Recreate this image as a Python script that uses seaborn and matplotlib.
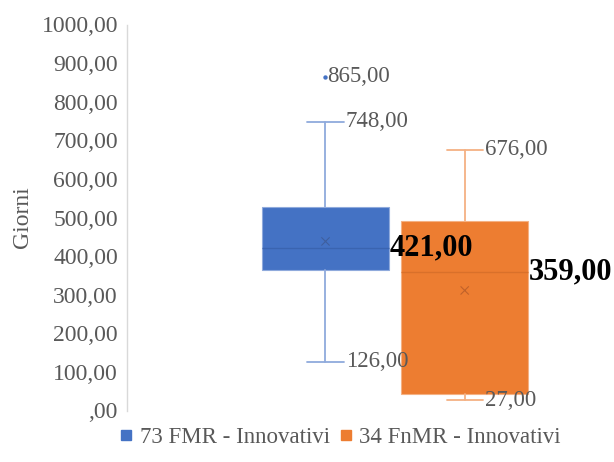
import matplotlib
matplotlib.use("Agg")
import matplotlib.pyplot as plt
from matplotlib.lines import Line2D
import seaborn as sns
import pandas as pd

# Summary statistics of the two groups (days)
series = ["73 FMR - Innovativi", "34 FnMR - Innovativi"]
q1 = [364, 43]
median = [421, 359]
q3 = [528, 490]
mean = [438, 311]
whisker_low = [126, 27]
whisker_high = [748, 676]
outliers = [[865], []]
y_ticks = [0, 100, 200, 300, 400, 500, 600, 700, 800, 900, 1000]

fill = ["#4472C4", "#ED7D31"]
whisker_col = ["#8FAADC", "#F4B183"]
median_col = ["#3A64B0", "#D9702A"]
mean_col = ["#3F5F9E", "#C0622A"]
label_col = "#595959"

sns.set_theme(style="white")
plt.rcParams["font.family"] = ["Liberation Serif", "DejaVu Serif"]

fig = plt.figure(figsize=(6.14, 4.62), dpi=100)
ax = fig.add_axes([127 / 614, 1 - 410.5 / 462, 473 / 614, 386 / 462])

positions = [1, 2]
box_w = 0.912
cap_w = 0.26

stats = []
for i, name in enumerate(series):
    stats.append(dict(label=name, q1=q1[i], med=median[i], q3=q3[i],
                      whislo=whisker_low[i], whishi=whisker_high[i],
                      mean=mean[i], fliers=[]))

parts = ax.bxp(stats, positions=positions, widths=box_w, patch_artist=True,
               showfliers=False, showmeans=False, capwidths=cap_w,
               manage_ticks=False)
for i in range(2):
    box = parts["boxes"][i]
    box.set_facecolor(fill[i])
    box.set_edgecolor(whisker_col[i])
    box.set_linewidth(0.8)
    parts["medians"][i].set_color(median_col[i])
    parts["medians"][i].set_linewidth(1.0)
    for k in (2 * i, 2 * i + 1):
        parts["whiskers"][k].set_color(whisker_col[i])
        parts["whiskers"][k].set_linewidth(1.3)
        parts["caps"][k].set_color(whisker_col[i])
        parts["caps"][k].set_linewidth(1.3)

# Mean markers and outliers
mean_df = pd.DataFrame({"x": positions, "y": mean, "s": series})
sns.scatterplot(data=mean_df, x="x", y="y", hue="s", palette=mean_col,
                marker="x", s=35, linewidth=0.8, legend=False, ax=ax, zorder=5)
out_rows = [(positions[i], v, series[i]) for i in range(2) for v in outliers[i]]
out_df = pd.DataFrame(out_rows, columns=["x", "y", "s"])
sns.scatterplot(data=out_df, x="x", y="y", color=fill[0], s=10,
                linewidth=0, legend=False, ax=ax, zorder=5)


def fmt(v):
    whole = int(round(v))
    return (",00" if whole == 0 else f"{whole},00")


# Value labels
for i, p in enumerate(positions):
    ax.annotate(fmt(whisker_high[i]), (p + cap_w / 2, whisker_high[i]),
                xytext=(1.5, 0), textcoords="offset points", ha="left",
                va="center", fontsize=16.5, color=label_col)
    ax.annotate(fmt(whisker_low[i]), (p + cap_w / 2, whisker_low[i]),
                xytext=(1.5, 0), textcoords="offset points", ha="left",
                va="center", fontsize=16.5, color=label_col)
    ax.annotate(fmt(median[i]), (p + box_w / 2, median[i]),
                xytext=(0.5, 0), textcoords="offset points", ha="left",
                va="center", fontsize=22, fontweight="bold", color="black",
                zorder=6)
    for v in outliers[i]:
        ax.annotate(fmt(v), (p, v), xytext=(1.5, 0), textcoords="offset points",
                    ha="left", va="center", fontsize=16.5, color=label_col)

ax.set_xlim(-0.426, 2.972)
ax.set_ylim(0, 1000)
ax.set_yticks(y_ticks)
ax.set_yticklabels([fmt(v) for v in y_ticks])
ax.set_xticks([])
ax.set_xlabel("")
ax.tick_params(axis="y", length=0, pad=6.5, labelsize=17, labelcolor=label_col)
ax.set_ylabel("Giorni", fontsize=17, color=label_col)
ax.yaxis.set_label_coords(-0.198, 0.5)

sns.despine(ax=ax, top=True, right=True, bottom=True, left=False)
ax.spines["left"].set_color("#D9D9D9")
ax.spines["left"].set_linewidth(1.0)
ax.grid(False)

handles = [Line2D([], [], marker="s", linestyle="none", markersize=7,
                  markerfacecolor=fill[i], markeredgecolor=fill[i])
           for i in range(2)]
fig.legend(handles, series, loc="center", bbox_to_anchor=(340 / 614, 1 - 437 / 462),
           ncol=2, frameon=False, fontsize=16.5, labelcolor=label_col,
           handlelength=0.6, handletextpad=0.3, columnspacing=0.4,
           borderaxespad=0, borderpad=0)

fig.savefig("out.png", dpi=100)
